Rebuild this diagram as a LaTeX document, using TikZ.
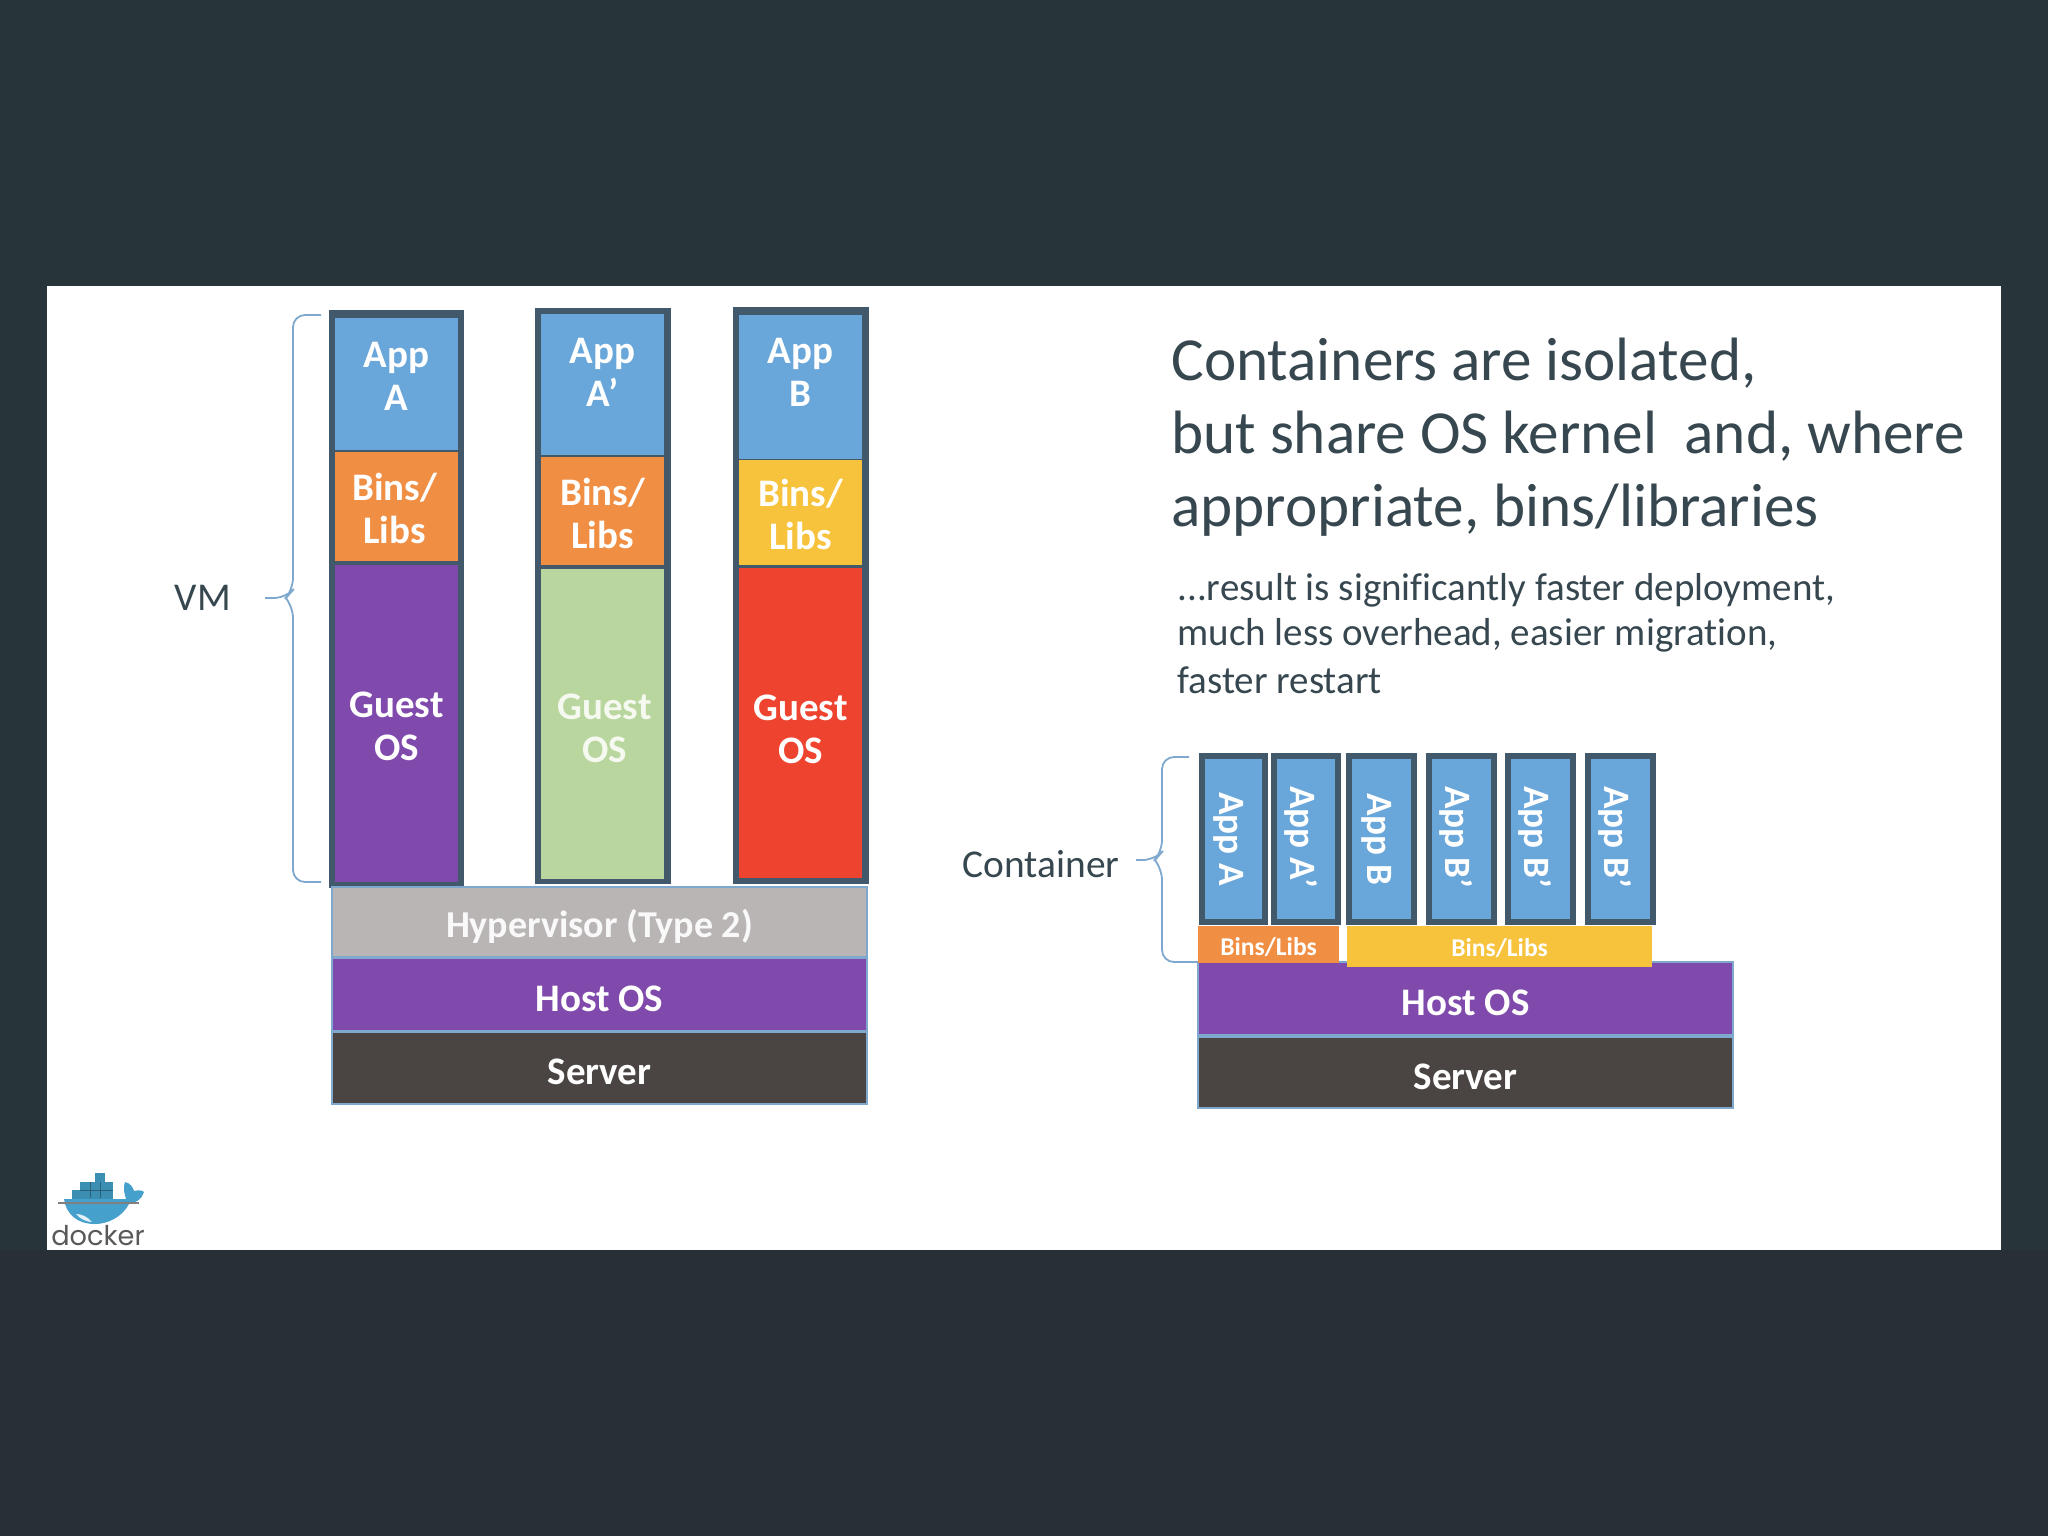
\documentclass[tikz,border=0pt]{standalone}
\usepackage{fontspec}
\setmainfont[RawFeature={-liga}]{Carlito}
\newfontfamily\logofont{Poppins}
\definecolor{bgdark}{HTML}{273439}
\definecolor{bgdarklow}{HTML}{282F37}
\definecolor{appblue}{HTML}{69A6D9}
\definecolor{binorange}{HTML}{F08E43}
\definecolor{binyellow}{HTML}{F7C23C}
\definecolor{ospurple}{HTML}{8049AC}
\definecolor{osgreen}{HTML}{B9D69E}
\definecolor{osred}{HTML}{EE432E}
\definecolor{hypgrey}{HTML}{B9B5B5}
\definecolor{srvdark}{HTML}{4A4543}
\definecolor{frame}{HTML}{41596B}
\definecolor{thinblue}{HTML}{7FA8CF}
\definecolor{inktext}{HTML}{37474F}
\definecolor{whale}{HTML}{45A0CC}
\definecolor{whaledark}{HTML}{3C8FB2}
\newcommand{\bx}[8][]{% text-keys,name,x0,y0,x1,y1,style,text
  \pgfmathsetmacro{\bw}{(#5-#3)*0.5}\pgfmathsetmacro{\bh}{(#6-#4)*0.5}
  \pgfmathsetmacro{\bcx}{(#3+#5)/2}\pgfmathsetmacro{\bcy}{(#4+#6)/2}
  \node[#7,minimum width=\bw pt,minimum height=\bh pt] (#2) at (\bcx,\bcy) {};
  \node[#7,fill=none,draw=none,#1] (#2-t) at (\bcx,\bcy) {#8};}
\tikzset{
  x=0.5pt,y=-0.5pt,
  seg/.style={inner sep=0pt,outer sep=0pt,text=white,align=center,font=\fontsize{19.5}{21.5}\selectfont\bfseries},
  colframe/.style={seg,fill=frame},
  slab/.style={seg,draw=thinblue,line width=0.9pt},
  thinapp/.style={seg,fill=appblue,draw=frame,line width=3.2pt,font=\fontsize{18.6}{20}\selectfont\bfseries},
  smallbin/.style={seg,font=\fontsize{12.8}{14}\selectfont\bfseries},
  bracepath/.style={draw=thinblue,line width=0.9pt,rounded corners=6pt},
  label/.style={inner sep=0pt,text=inktext,font=\fontsize{19.7}{22}\selectfont},
  headline/.style={inner sep=0pt,anchor=base west,text=inktext,font=\fontsize{30.6}{36}\selectfont},
  subline/.style={inner sep=0pt,anchor=base west,text=inktext,font=\fontsize{19.5}{24}\selectfont},
}
\begin{document}
\begin{tikzpicture}
\useasboundingbox (0,0) rectangle (2048,1536);
\fill[bgdark] (0,0) rectangle (2048,800);
\fill[bgdarklow] (0,1250) rectangle (2048,1536);
\fill[bgdark] (0,800) rectangle (47,1250);
\fill[bgdark] (2001,800) rectangle (2048,1250);
\fill[white] (47,286) rectangle (2001,1250);

% VM columns
\bx{colA}{329}{310}{464}{888}{colframe}{}
\bx[yshift=4pt]{appA}{335}{318}{458}{450}{seg,fill=appblue}{App\\A}
\bx[yshift=-1pt,xshift=-1pt]{binA}{335}{452}{458}{561}{seg,fill=binorange}{Bins/\\Libs}
\bx[yshift=-1.5pt]{osA}{335}{565}{458}{882}{seg,fill=ospurple}{Guest\\OS}
\bx{colB}{535}{308}{671}{884}{colframe}{}
\bx[yshift=6pt]{appB}{541}{314}{664}{455}{seg,fill=appblue}{App\\A’}
\bx[yshift=-1pt]{binB}{541}{457}{664}{565}{seg,fill=binorange}{Bins/\\Libs}
\bx[yshift=-2.3pt,xshift=1pt]{osB}{541}{569}{664}{879}{seg,fill=osgreen,text=white!85!osgreen}{Guest\\OS}
\bx{colC}{733}{307}{869}{884}{colframe}{}
\bx[yshift=7.5pt]{appC}{739}{315}{862}{459}{seg,fill=appblue}{App\\B}
\bx[yshift=-1.2pt]{binC}{739}{460}{862}{565}{seg,fill=binyellow}{Bins/\\Libs}
\bx[yshift=-3pt]{osC}{739}{568}{862}{878}{seg,fill=osred}{Guest\\OS}

% VM base
\bx[yshift=-2pt,font=\fontsize{19}{21}\selectfont\bfseries]{hyp}{332}{887}{867}{957}{slab,fill=hypgrey,text=white!92!hypgrey}{Hypervisor (Type 2)}
\bx[yshift=-2pt]{hostL}{332}{958}{867}{1031}{slab,fill=ospurple}{Host OS}
\bx[yshift=-2pt]{srvL}{332}{1032}{867}{1104}{slab,fill=srvdark}{Server}

% VM brace
\node[label] (vm) at (203,598) {VM};
\coordinate (vmtip) at (265,598);
\coordinate (vmtop) at (321,315);
\coordinate (vmbot) at (321,882);
\draw[bracepath] (vmtop) -- (293,315) -- (293,590) -- (286,598) -- (vmtip);
\draw[bracepath] (vmbot) -- (293,882) -- (293,606) -- (286,598);

% Text
\node[headline] (h1) at (1171,380) {Containers are isolated,};
\node[headline] (h2) at (1171,453) {but share OS kernel\ \ and, where};
\node[headline] (h3) at (1171,526) {appropriate, bins/libraries};
\node[subline] (s1) at (1177,600) {...result is significantly faster deployment,};
\node[subline] (s2) at (1177,645) {much less overhead, easier migration,};
\node[subline] (s3) at (1177,693) {faster restart};

% Containers
\bx[xshift=-2.5pt]{c1}{1202}{756}{1265}{922}{thinapp}{\rotatebox{-90}{App A}}
\bx[xshift=-2.5pt,yshift=1pt]{c2}{1274}{756}{1338}{922}{thinapp}{\rotatebox{-90}{App A’}}
\bx[xshift=-2.5pt]{c3}{1349}{756}{1414}{922}{thinapp}{\rotatebox{-90}{App B}}
\bx[xshift=-2.5pt,yshift=1pt]{c4}{1429}{756}{1494}{922}{thinapp}{\rotatebox{-90}{App B’}}
\bx[xshift=-2.5pt,yshift=1pt]{c5}{1508}{756}{1573}{922}{thinapp}{\rotatebox{-90}{App B’}}
\bx[xshift=-2.5pt,yshift=1pt]{c6}{1588}{756}{1653}{922}{thinapp}{\rotatebox{-90}{App B’}}
\bx[yshift=-2pt]{hostR}{1198}{962}{1733}{1035}{slab,fill=ospurple}{Host OS}
\bx[yshift=-2pt]{srvR}{1198}{1037}{1733}{1108}{slab,fill=srvdark}{Server}
\bx[yshift=-1.3pt]{binL}{1198}{926}{1339}{963}{smallbin,fill=binorange}{Bins/Libs}
\bx[yshift=-1pt]{binR}{1347}{926}{1652}{967}{smallbin,fill=binyellow}{Bins/Libs}

% Container brace
\node[label] (ct) at (1041,864) {Container};
\coordinate (cttip) at (1136,860);
\coordinate (cttop) at (1189,757);
\coordinate (ctbot) at (1198,962);
\draw[bracepath] (cttop) -- (1162,757) -- (1162,852) -- (1155,860) -- (cttip);
\draw[bracepath] (ctbot) -- (1162,962) -- (1162,868) -- (1155,860);

% Docker logo
\fill[whaledark] (72,1190) rectangle (113,1199);
\fill[whaledark] (80,1182) rectangle (113,1190);
\fill[whaledark] (95,1173) rectangle (105,1182);
\fill[whale] (64,1199) -- (126,1199) .. controls (124,1192) and (123,1188) .. (125,1182)
  .. controls (130,1183) and (133,1187) .. (134,1191) .. controls (138,1190) and (142,1190) .. (144,1192)
  .. controls (142,1199) and (136,1203) .. (129,1204) .. controls (122,1217) and (108,1224) .. (95,1224)
  .. controls (77,1224) and (66,1214) .. (64,1199) -- cycle;
\fill[white!85!whale] (76,1214) .. controls (80,1219) and (87,1222) .. (92,1222) .. controls (88,1217) and (82,1214) .. (76,1214) -- cycle;
\draw[whale!60!black,line width=0.3pt] (80,1190) -- (113,1190) (90,1182) -- (90,1198) (100,1182) -- (100,1198);
\draw[gray,line width=0.6pt] (58,1203) -- (139,1203);
\node[inner sep=0pt,text=black!65,font=\logofont\fontsize{13.6}{15}\selectfont] (docker) at (98,1236) {docker};
\end{tikzpicture}
\end{document}
